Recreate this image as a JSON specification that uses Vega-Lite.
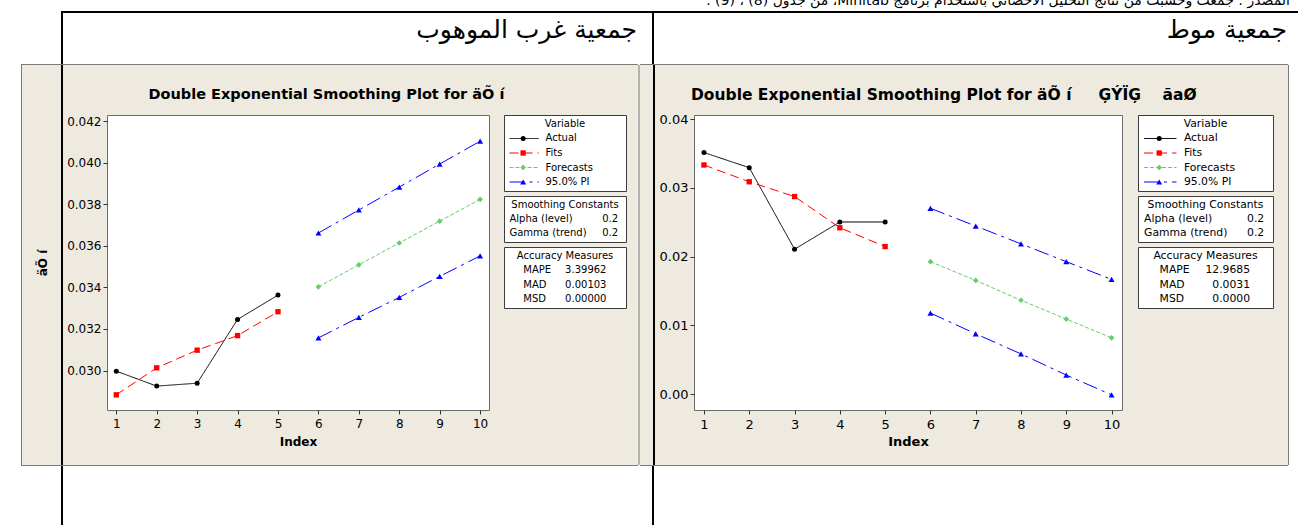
{
"$schema": "https://vega.github.io/schema/vega-lite/v6.json",
"padding": 0,
"background": "#EEEAE0",
"spacing": 0,
"config": {
  "view": {"stroke": null},
  "font": "DejaVu Sans",
  "title": {"font": "DejaVu Sans", "fontSize": 14.5, "fontWeight": "bold", "color": "#000000"},
  "axis": {"domain": false, "grid": false, "tickColor": "#333333", "tickSize": 4, "labelFont": "DejaVu Sans", "labelFontSize": 12, "labelColor": "#000000", "titleFont": "DejaVu Sans", "titleFontSize": 12, "titleFontWeight": "bold", "titleColor": "#000000", "labelFlush": false}
},
"datasets": {
  "left": [
    {"index": 1, "value": 0.02997, "series": "Actual", "line": "Actual"},
    {"index": 2, "value": 0.02925, "series": "Actual", "line": "Actual"},
    {"index": 3, "value": 0.02939, "series": "Actual", "line": "Actual"},
    {"index": 4, "value": 0.03246, "series": "Actual", "line": "Actual"},
    {"index": 5, "value": 0.03363, "series": "Actual", "line": "Actual"},
    {"index": 1, "value": 0.02883, "series": "Fits", "line": "Fits"},
    {"index": 2, "value": 0.03013, "series": "Fits", "line": "Fits"},
    {"index": 3, "value": 0.03098, "series": "Fits", "line": "Fits"},
    {"index": 4, "value": 0.03168, "series": "Fits", "line": "Fits"},
    {"index": 5, "value": 0.03283, "series": "Fits", "line": "Fits"},
    {"index": 6, "value": 0.03403, "series": "Forecasts", "line": "Forecasts"},
    {"index": 7, "value": 0.03509, "series": "Forecasts", "line": "Forecasts"},
    {"index": 8, "value": 0.03614, "series": "Forecasts", "line": "Forecasts"},
    {"index": 9, "value": 0.03719, "series": "Forecasts", "line": "Forecasts"},
    {"index": 10, "value": 0.03824, "series": "Forecasts", "line": "Forecasts"},
    {"index": 6, "value": 0.03662, "series": "95.0% PI", "line": "Upper"},
    {"index": 7, "value": 0.03773, "series": "95.0% PI", "line": "Upper"},
    {"index": 8, "value": 0.03883, "series": "95.0% PI", "line": "Upper"},
    {"index": 9, "value": 0.03994, "series": "95.0% PI", "line": "Upper"},
    {"index": 10, "value": 0.04104, "series": "95.0% PI", "line": "Upper"},
    {"index": 6, "value": 0.03157, "series": "95.0% PI", "line": "Lower"},
    {"index": 7, "value": 0.03256, "series": "95.0% PI", "line": "Lower"},
    {"index": 8, "value": 0.03352, "series": "95.0% PI", "line": "Lower"},
    {"index": 9, "value": 0.03453, "series": "95.0% PI", "line": "Lower"},
    {"index": 10, "value": 0.03552, "series": "95.0% PI", "line": "Lower"}
  ],
  "right": [
    {"index": 1, "value": 0.03514, "series": "Actual", "line": "Actual"},
    {"index": 2, "value": 0.03294, "series": "Actual", "line": "Actual"},
    {"index": 3, "value": 0.02108, "series": "Actual", "line": "Actual"},
    {"index": 4, "value": 0.02504, "series": "Actual", "line": "Actual"},
    {"index": 5, "value": 0.02504, "series": "Actual", "line": "Actual"},
    {"index": 1, "value": 0.03333, "series": "Fits", "line": "Fits"},
    {"index": 2, "value": 0.03089, "series": "Fits", "line": "Fits"},
    {"index": 3, "value": 0.02874, "series": "Fits", "line": "Fits"},
    {"index": 4, "value": 0.0242, "series": "Fits", "line": "Fits"},
    {"index": 5, "value": 0.02147, "series": "Fits", "line": "Fits"},
    {"index": 6, "value": 0.01927, "series": "Forecasts", "line": "Forecasts"},
    {"index": 7, "value": 0.01654, "series": "Forecasts", "line": "Forecasts"},
    {"index": 8, "value": 0.01366, "series": "Forecasts", "line": "Forecasts"},
    {"index": 9, "value": 0.01092, "series": "Forecasts", "line": "Forecasts"},
    {"index": 10, "value": 0.0082, "series": "Forecasts", "line": "Forecasts"},
    {"index": 6, "value": 0.02703, "series": "95.0% PI", "line": "Upper"},
    {"index": 7, "value": 0.02445, "series": "95.0% PI", "line": "Upper"},
    {"index": 8, "value": 0.02186, "series": "95.0% PI", "line": "Upper"},
    {"index": 9, "value": 0.01927, "series": "95.0% PI", "line": "Upper"},
    {"index": 10, "value": 0.01669, "series": "95.0% PI", "line": "Upper"},
    {"index": 6, "value": 0.0118, "series": "95.0% PI", "line": "Lower"},
    {"index": 7, "value": 0.00878, "series": "95.0% PI", "line": "Lower"},
    {"index": 8, "value": 0.00586, "series": "95.0% PI", "line": "Lower"},
    {"index": 9, "value": 0.00278, "series": "95.0% PI", "line": "Lower"},
    {"index": 10, "value": -0.0001, "series": "95.0% PI", "line": "Lower"}
  ]
},
"vconcat": [
  {
    "width": 1298, "height": 65,
    "view": {"fill": "white"},
    "data": {"values": [{}]},
    "layer": [
      {"mark": {"type": "rect", "color": "#000000"}, "encoding": {"x": {"datum": 0.047, "type": "quantitative", "scale": {"domain": [0, 1], "nice": false, "zero": false}, "axis": null}, "x2": {"datum": 1}, "y": {"datum": 0.1692, "type": "quantitative", "scale": {"domain": [0, 1], "reverse": true, "nice": false, "zero": false}, "axis": null}, "y2": {"datum": 0.2}}},
      {"mark": {"type": "rect", "color": "#000000"}, "encoding": {"x": {"datum": 0.047}, "x2": {"datum": 0.04854}, "y": {"datum": 0.1692}, "y2": {"datum": 1}}},
      {"mark": {"type": "rect", "color": "#000000"}, "encoding": {"x": {"datum": 0.50231}, "x2": {"datum": 0.50385}, "y": {"datum": 0.1692}, "y2": {"datum": 1}}},
      {"mark": {"type": "rect", "color": "#7a7a7a"}, "encoding": {"x": {"datum": 0.01618}, "x2": {"datum": 0.49153}, "y": {"datum": 0.98462}, "y2": {"datum": 1}}},
      {"mark": {"type": "rect", "color": "#7a7a7a"}, "encoding": {"x": {"datum": 0.49307}, "x2": {"datum": 0.9923}, "y": {"datum": 0.98462}, "y2": {"datum": 1}}},
      {"mark": {"type": "text", "align": "right", "baseline": "middle", "font": "DejaVu Sans", "fontSize": 25, "color": "#000000"}, "encoding": {"x": {"datum": 0.4908}, "y": {"datum": 0.4615}, "text": {"value": "جمعية غرب الموهوب"}}},
      {"mark": {"type": "text", "align": "right", "baseline": "middle", "font": "DejaVu Sans", "fontSize": 25, "color": "#000000"}, "encoding": {"x": {"datum": 0.9915}, "y": {"datum": 0.4615}, "text": {"value": "جمعية موط"}}},
      {"mark": {"type": "text", "align": "right", "baseline": "alphabetic", "font": "DejaVu Sans", "fontSize": 14, "color": "#000000", "clip": true}, "encoding": {"x": {"datum": 0.9938}, "y": {"datum": 0.07}, "text": {"value": "\u202bالمصدر : جمعت وحسبت من نتائج التحليل الاحصائي باستخدام برنامج Minitab، من جدول (8) ، (9) .\u202c"}}}
    ]
  },
  {
    "columns": 11,
    "spacing": 0,
    "bounds": "flush",
    "align": "each",
    "concat": [
      {"width": 21, "height": 50, "view": {"fill": "white"}, "data": {"values": []}, "mark": "point"},
      {"width": 85.5, "height": 50, "data": {"values": [{}]}, "layer": [
        {"mark": {"type": "rect", "color": "#7a7a7a"}, "encoding": {"x": {"datum": 0, "type": "quantitative", "scale": {"domain": [0, 1], "nice": false, "zero": false}, "axis": null}, "x2": {"datum": 0.0117}}},
        {"mark": {"type": "rect", "color": "#000000"}, "encoding": {"x": {"datum": 0.4678}, "x2": {"datum": 0.4912}}}
      ]},
      {"width": 382, "height": 50, "data": {"values": []}, "mark": "point"},
      {"width": 14.5, "height": 50, "data": {"values": []}, "mark": "point"},
      {"width": 122, "height": 50, "data": {"values": []}, "mark": "point"},
      {"width": 68, "height": 50, "data": {"values": [{}]}, "layer": [
        {"mark": {"type": "rect", "color": "#7a7a7a"}, "encoding": {"x": {"datum": 0.1838, "type": "quantitative", "scale": {"domain": [0, 1], "nice": false, "zero": false}, "axis": null}, "x2": {"datum": 0.1985}}},
        {"mark": {"type": "rect", "color": "#000000"}, "encoding": {"x": {"datum": 0.3971}, "x2": {"datum": 0.4265}}}
      ]},
      {"width": 428, "height": 50, "data": {"values": []}, "mark": "point"},
      {"width": 16, "height": 50, "data": {"values": []}, "mark": "point"},
      {"width": 135, "height": 50, "data": {"values": []}, "mark": "point"},
      {"width": 16, "height": 50, "data": {"values": [{}]}, "mark": {"type": "rect", "color": "#7a7a7a"}, "encoding": {"x": {"datum": 0.9375, "type": "quantitative", "scale": {"domain": [0, 1], "nice": false, "zero": false}, "axis": null}, "x2": {"datum": 1}}},
      {"width": 10, "height": 50, "view": {"fill": "white"}, "data": {"values": []}, "mark": "point"},

      {"width": 21, "height": 295, "view": {"fill": "white"}, "data": {"values": []}, "mark": "point"},
      {"width": 85.5, "height": 295, "data": {"values": [{}]}, "layer": [
        {"mark": {"type": "rect", "color": "#7a7a7a"}, "encoding": {"x": {"datum": 0, "type": "quantitative", "scale": {"domain": [0, 1], "nice": false, "zero": false}, "axis": null}, "x2": {"datum": 0.0117}}},
        {"mark": {"type": "rect", "color": "#000000"}, "encoding": {"x": {"datum": 0.4678}, "x2": {"datum": 0.4912}}}
      ]},
      {
        "width": 382, "height": 295,
        "view": {"fill": "white", "stroke": "#6b6b6b"},
        "title": {"text": "Double Exponential Smoothing Plot for äÕ í", "anchor": "start", "frame": "group", "dx": 41.5, "offset": 2, "baseline": "alphabetic"},
        "data": {"name": "left"},
        "layer": [
          {"mark": {"type": "line", "strokeWidth": 1},
           "encoding": {
             "x": {"field": "index", "type": "quantitative", "scale": {"domain": [0.77, 10.22], "nice": false, "zero": false}, "axis": {"values": [1, 2, 3, 4, 5, 6, 7, 8, 9, 10], "format": "d", "title": "Index", "labelPadding": 4, "titlePadding": 7}},
             "y": {"field": "value", "type": "quantitative", "scale": {"domain": [0.0281, 0.0423], "nice": false, "zero": false}, "axis": {"values": [0.03, 0.032, 0.034, 0.036, 0.038, 0.04, 0.042], "format": ".3f", "title": "äÕ\u00a0í", "titlePadding": 17, "labelPadding": 2}},
             "color": {"field": "series", "type": "nominal", "scale": {"domain": ["Actual", "Fits", "Forecasts", "95.0% PI"], "range": ["#000000", "#FF0000", "#66CC66", "#0000FF"]}, "legend": null},
             "strokeDash": {"field": "series", "type": "nominal", "scale": {"domain": ["Actual", "Fits", "Forecasts", "95.0% PI"], "range": [[1, 0], [9, 5], [4, 2], [15, 5, 3, 5]]}, "legend": null},
             "detail": {"field": "line"}
           }},
          {"mark": {"type": "point", "filled": true, "opacity": 1},
           "encoding": {
             "x": {"field": "index", "type": "quantitative"},
             "y": {"field": "value", "type": "quantitative"},
             "color": {"field": "series", "type": "nominal", "legend": null},
             "shape": {"field": "series", "type": "nominal", "scale": {"domain": ["Actual", "Fits", "Forecasts", "95.0% PI"], "range": ["circle", "square", "diamond", "triangle-up"]}, "legend": null},
             "size": {"field": "series", "type": "ordinal", "scale": {"domain": ["Actual", "Fits", "Forecasts", "95.0% PI"], "range": [25, 36, 45, 70]}, "legend": null}
           }}
        ]
      },
      {"width": 14.5, "height": 295, "data": {"values": []}, "mark": "point"},
      {
        "bounds": "flush",
        "spacing": 5,
        "vconcat": [
          {
            "width": 122, "height": 76,
            "view": {"fill": "white", "stroke": "#3c3c3c"},
            "data": {"values": [{"series": "Actual"}, {"series": "Fits"}, {"series": "Forecasts"}, {"series": "95.0% PI"}]},
            "encoding": {"y": {"field": "series", "type": "ordinal", "scale": {"type": "point", "domain": ["Variable", "Actual", "Fits", "Forecasts", "95.0% PI"], "padding": 0.62}, "axis": null}},
            "layer": [
              {"mark": {"type": "rule", "strokeWidth": 1}, "encoding": {"x": {"datum": 0.045, "type": "quantitative", "scale": {"domain": [0, 1], "nice": false, "zero": false}, "axis": null}, "x2": {"datum": 0.285}, "color": {"field": "series", "type": "nominal", "legend": null}, "strokeDash": {"field": "series", "type": "nominal", "legend": null}}},
              {"mark": {"type": "point", "filled": true, "opacity": 1}, "encoding": {"x": {"datum": 0.157}, "color": {"field": "series", "type": "nominal", "legend": null}, "shape": {"field": "series", "type": "nominal", "legend": null}, "size": {"field": "series", "type": "ordinal", "legend": null}}},
              {"mark": {"type": "text", "align": "left", "baseline": "middle", "font": "DejaVu Sans", "fontSize": 10, "color": "#000000"}, "encoding": {"x": {"datum": 0.34}, "text": {"field": "series"}}},
              {"data": {"values": [{}]}, "mark": {"type": "text", "align": "center", "baseline": "middle", "font": "DejaVu Sans", "fontSize": 10, "color": "#000000"}, "encoding": {"x": {"datum": 0.5}, "y": {"datum": "Variable", "type": "ordinal"}, "text": {"value": "Variable"}}}
            ]
          },
          {
            "width": 122, "height": 46,
            "view": {"fill": "white", "stroke": "#3c3c3c"},
            "data": {"values": [{"row": "Alpha (level)", "value": "0.2"}, {"row": "Gamma (trend)", "value": "0.2"}]},
            "encoding": {"y": {"field": "row", "type": "ordinal", "scale": {"type": "point", "domain": ["Smoothing Constants", "Alpha (level)", "Gamma (trend)"], "padding": 0.62}, "axis": null}},
            "layer": [
              {"mark": {"type": "text", "align": "left", "baseline": "middle", "font": "DejaVu Sans", "fontSize": 10, "color": "#000000"}, "encoding": {"x": {"datum": 0.045, "type": "quantitative", "scale": {"domain": [0, 1], "nice": false, "zero": false}, "axis": null}, "text": {"field": "row"}}},
              {"mark": {"type": "text", "align": "right", "baseline": "middle", "font": "DejaVu Sans", "fontSize": 10, "color": "#000000"}, "encoding": {"x": {"datum": 0.935}, "text": {"field": "value"}}},
              {"data": {"values": [{}]}, "mark": {"type": "text", "align": "center", "baseline": "middle", "font": "DejaVu Sans", "fontSize": 10, "color": "#000000"}, "encoding": {"x": {"datum": 0.5}, "y": {"datum": "Smoothing Constants", "type": "ordinal"}, "text": {"value": "Smoothing Constants"}}}
            ]
          },
          {
            "width": 122, "height": 61,
            "view": {"fill": "white", "stroke": "#3c3c3c"},
            "data": {"values": [{"row": "MAPE", "value": "3.39962"}, {"row": "MAD", "value": "0.00103"}, {"row": "MSD", "value": "0.00000"}]},
            "encoding": {"y": {"field": "row", "type": "ordinal", "scale": {"type": "point", "domain": ["Accuracy Measures", "MAPE", "MAD", "MSD"], "padding": 0.62}, "axis": null}},
            "layer": [
              {"mark": {"type": "text", "align": "left", "baseline": "middle", "font": "DejaVu Sans", "fontSize": 10, "color": "#000000"}, "encoding": {"x": {"datum": 0.158, "type": "quantitative", "scale": {"domain": [0, 1], "nice": false, "zero": false}, "axis": null}, "text": {"field": "row"}}},
              {"mark": {"type": "text", "align": "right", "baseline": "middle", "font": "DejaVu Sans", "fontSize": 10, "color": "#000000"}, "encoding": {"x": {"datum": 0.84}, "text": {"field": "value"}}},
              {"data": {"values": [{}]}, "mark": {"type": "text", "align": "center", "baseline": "middle", "font": "DejaVu Sans", "fontSize": 10, "color": "#000000"}, "encoding": {"x": {"datum": 0.5}, "y": {"datum": "Accuracy Measures", "type": "ordinal"}, "text": {"value": "Accuracy Measures"}}}
            ]
          }
        ]
      },
      {"width": 68, "height": 295, "data": {"values": [{}]}, "layer": [
        {"mark": {"type": "rect", "color": "#7a7a7a"}, "encoding": {"x": {"datum": 0.1838, "type": "quantitative", "scale": {"domain": [0, 1], "nice": false, "zero": false}, "axis": null}, "x2": {"datum": 0.1985}}},
        {"mark": {"type": "rect", "color": "#000000"}, "encoding": {"x": {"datum": 0.3971}, "x2": {"datum": 0.4265}}}
      ]},
      {
        "width": 428, "height": 295,
        "view": {"fill": "white", "stroke": "#6b6b6b"},
        "title": {"text": "Double Exponential Smoothing Plot for äÕ í\u00a0\u00a0\u00a0\u00a0 ĢÝÏĢ\u00a0\u00a0\u00a0 ãaØ", "anchor": "start", "frame": "group", "dx": -3, "dy": 4, "offset": 2, "baseline": "alphabetic", "fontSize": 15.5},
        "data": {"name": "right"},
        "layer": [
          {"mark": {"type": "line", "strokeWidth": 1},
           "encoding": {
             "x": {"field": "index", "type": "quantitative", "scale": {"domain": [0.78, 10.23], "nice": false, "zero": false}, "axis": {"values": [1, 2, 3, 4, 5, 6, 7, 8, 9, 10], "format": "d", "title": "Index", "labelPadding": 4, "titlePadding": 4, "labelFontSize": 13, "titleFontSize": 13}},
             "y": {"field": "value", "type": "quantitative", "scale": {"domain": [-0.0023, 0.0406], "nice": false, "zero": false}, "axis": {"values": [0, 0.01, 0.02, 0.03, 0.04], "format": ".2f", "title": null, "labelPadding": 2, "labelFontSize": 13}},
             "color": {"field": "series", "type": "nominal", "legend": null},
             "strokeDash": {"field": "series", "type": "nominal", "legend": null},
             "detail": {"field": "line"}
           }},
          {"mark": {"type": "point", "filled": true, "opacity": 1},
           "encoding": {
             "x": {"field": "index", "type": "quantitative"},
             "y": {"field": "value", "type": "quantitative"},
             "color": {"field": "series", "type": "nominal", "legend": null},
             "shape": {"field": "series", "type": "nominal", "legend": null},
             "size": {"field": "series", "type": "ordinal", "legend": null}
           }}
        ]
      },
      {"width": 16, "height": 295, "data": {"values": []}, "mark": "point"},
      {
        "bounds": "flush",
        "spacing": 5,
        "vconcat": [
          {
            "width": 135, "height": 76,
            "view": {"fill": "white", "stroke": "#3c3c3c"},
            "data": {"values": [{"series": "Actual"}, {"series": "Fits"}, {"series": "Forecasts"}, {"series": "95.0% PI"}]},
            "encoding": {"y": {"field": "series", "type": "ordinal", "scale": {"type": "point", "domain": ["Variable", "Actual", "Fits", "Forecasts", "95.0% PI"], "padding": 0.62}, "axis": null}},
            "layer": [
              {"mark": {"type": "rule", "strokeWidth": 1}, "encoding": {"x": {"datum": 0.045, "type": "quantitative", "scale": {"domain": [0, 1], "nice": false, "zero": false}, "axis": null}, "x2": {"datum": 0.285}, "color": {"field": "series", "type": "nominal", "legend": null}, "strokeDash": {"field": "series", "type": "nominal", "legend": null}}},
              {"mark": {"type": "point", "filled": true, "opacity": 1}, "encoding": {"x": {"datum": 0.157}, "color": {"field": "series", "type": "nominal", "legend": null}, "shape": {"field": "series", "type": "nominal", "legend": null}, "size": {"field": "series", "type": "ordinal", "legend": null}}},
              {"mark": {"type": "text", "align": "left", "baseline": "middle", "font": "DejaVu Sans", "fontSize": 10.8, "color": "#000000"}, "encoding": {"x": {"datum": 0.34}, "text": {"field": "series"}}},
              {"data": {"values": [{}]}, "mark": {"type": "text", "align": "center", "baseline": "middle", "font": "DejaVu Sans", "fontSize": 10.8, "color": "#000000"}, "encoding": {"x": {"datum": 0.5}, "y": {"datum": "Variable", "type": "ordinal"}, "text": {"value": "Variable"}}}
            ]
          },
          {
            "width": 135, "height": 46,
            "view": {"fill": "white", "stroke": "#3c3c3c"},
            "data": {"values": [{"row": "Alpha (level)", "value": "0.2"}, {"row": "Gamma (trend)", "value": "0.2"}]},
            "encoding": {"y": {"field": "row", "type": "ordinal", "scale": {"type": "point", "domain": ["Smoothing Constants", "Alpha (level)", "Gamma (trend)"], "padding": 0.62}, "axis": null}},
            "layer": [
              {"mark": {"type": "text", "align": "left", "baseline": "middle", "font": "DejaVu Sans", "fontSize": 10.8, "color": "#000000"}, "encoding": {"x": {"datum": 0.045, "type": "quantitative", "scale": {"domain": [0, 1], "nice": false, "zero": false}, "axis": null}, "text": {"field": "row"}}},
              {"mark": {"type": "text", "align": "right", "baseline": "middle", "font": "DejaVu Sans", "fontSize": 10.8, "color": "#000000"}, "encoding": {"x": {"datum": 0.935}, "text": {"field": "value"}}},
              {"data": {"values": [{}]}, "mark": {"type": "text", "align": "center", "baseline": "middle", "font": "DejaVu Sans", "fontSize": 10.8, "color": "#000000"}, "encoding": {"x": {"datum": 0.5}, "y": {"datum": "Smoothing Constants", "type": "ordinal"}, "text": {"value": "Smoothing Constants"}}}
            ]
          },
          {
            "width": 135, "height": 61,
            "view": {"fill": "white", "stroke": "#3c3c3c"},
            "data": {"values": [{"row": "MAPE", "value": "12.9685"}, {"row": "MAD", "value": "0.0031"}, {"row": "MSD", "value": "0.0000"}]},
            "encoding": {"y": {"field": "row", "type": "ordinal", "scale": {"type": "point", "domain": ["Accuracy Measures", "MAPE", "MAD", "MSD"], "padding": 0.62}, "axis": null}},
            "layer": [
              {"mark": {"type": "text", "align": "left", "baseline": "middle", "font": "DejaVu Sans", "fontSize": 10.8, "color": "#000000"}, "encoding": {"x": {"datum": 0.16, "type": "quantitative", "scale": {"domain": [0, 1], "nice": false, "zero": false}, "axis": null}, "text": {"field": "row"}}},
              {"mark": {"type": "text", "align": "right", "baseline": "middle", "font": "DejaVu Sans", "fontSize": 10.8, "color": "#000000"}, "encoding": {"x": {"datum": 0.83}, "text": {"field": "value"}}},
              {"data": {"values": [{}]}, "mark": {"type": "text", "align": "center", "baseline": "middle", "font": "DejaVu Sans", "fontSize": 10.8, "color": "#000000"}, "encoding": {"x": {"datum": 0.5}, "y": {"datum": "Accuracy Measures", "type": "ordinal"}, "text": {"value": "Accuracy Measures"}}}
            ]
          }
        ]
      },
      {"width": 16, "height": 295, "data": {"values": [{}]}, "mark": {"type": "rect", "color": "#7a7a7a"}, "encoding": {"x": {"datum": 0.9375, "type": "quantitative", "scale": {"domain": [0, 1], "nice": false, "zero": false}, "axis": null}, "x2": {"datum": 1}}},
      {"width": 10, "height": 295, "view": {"fill": "white"}, "data": {"values": []}, "mark": "point"},

      {"width": 21, "height": 55, "view": {"fill": "white"}, "data": {"values": []}, "mark": "point"},
      {"width": 85.5, "height": 55, "data": {"values": [{}]}, "layer": [
        {"mark": {"type": "rect", "color": "#7a7a7a"}, "encoding": {"x": {"datum": 0, "type": "quantitative", "scale": {"domain": [0, 1], "nice": false, "zero": false}, "axis": null}, "x2": {"datum": 0.0117}}},
        {"mark": {"type": "rect", "color": "#000000"}, "encoding": {"x": {"datum": 0.4678}, "x2": {"datum": 0.4912}}}
      ]},
      {"width": 382, "height": 55, "data": {"values": []}, "mark": "point"},
      {"width": 14.5, "height": 55, "data": {"values": []}, "mark": "point"},
      {"width": 122, "height": 55, "data": {"values": []}, "mark": "point"},
      {"width": 68, "height": 55, "data": {"values": [{}]}, "layer": [
        {"mark": {"type": "rect", "color": "#7a7a7a"}, "encoding": {"x": {"datum": 0.1838, "type": "quantitative", "scale": {"domain": [0, 1], "nice": false, "zero": false}, "axis": null}, "x2": {"datum": 0.1985}}},
        {"mark": {"type": "rect", "color": "#000000"}, "encoding": {"x": {"datum": 0.3971}, "x2": {"datum": 0.4265}}}
      ]},
      {"width": 428, "height": 55, "data": {"values": []}, "mark": "point"},
      {"width": 16, "height": 55, "data": {"values": []}, "mark": "point"},
      {"width": 135, "height": 55, "data": {"values": []}, "mark": "point"},
      {"width": 16, "height": 55, "data": {"values": [{}]}, "mark": {"type": "rect", "color": "#7a7a7a"}, "encoding": {"x": {"datum": 0.9375, "type": "quantitative", "scale": {"domain": [0, 1], "nice": false, "zero": false}, "axis": null}, "x2": {"datum": 1}}},
      {"width": 10, "height": 55, "view": {"fill": "white"}, "data": {"values": []}, "mark": "point"}
    ]
  },
  {
    "width": 1298, "height": 60,
    "view": {"fill": "white"},
    "data": {"values": [{}]},
    "layer": [
      {"mark": {"type": "rect", "color": "#000000"}, "encoding": {"x": {"datum": 0.047, "type": "quantitative", "scale": {"domain": [0, 1], "nice": false, "zero": false}, "axis": null}, "x2": {"datum": 0.04854}, "y": {"datum": 0, "type": "quantitative", "scale": {"domain": [0, 1], "reverse": true, "nice": false, "zero": false}, "axis": null}, "y2": {"datum": 1}}},
      {"mark": {"type": "rect", "color": "#000000"}, "encoding": {"x": {"datum": 0.50231}, "x2": {"datum": 0.50385}, "y": {"datum": 0}, "y2": {"datum": 1}}},
      {"mark": {"type": "rect", "color": "#7a7a7a"}, "encoding": {"x": {"datum": 0.01618}, "x2": {"datum": 0.49153}, "y": {"datum": 0}, "y2": {"datum": 0.0167}}},
      {"mark": {"type": "rect", "color": "#7a7a7a"}, "encoding": {"x": {"datum": 0.49307}, "x2": {"datum": 0.9923}, "y": {"datum": 0}, "y2": {"datum": 0.0167}}}
    ]
  }
]
}
